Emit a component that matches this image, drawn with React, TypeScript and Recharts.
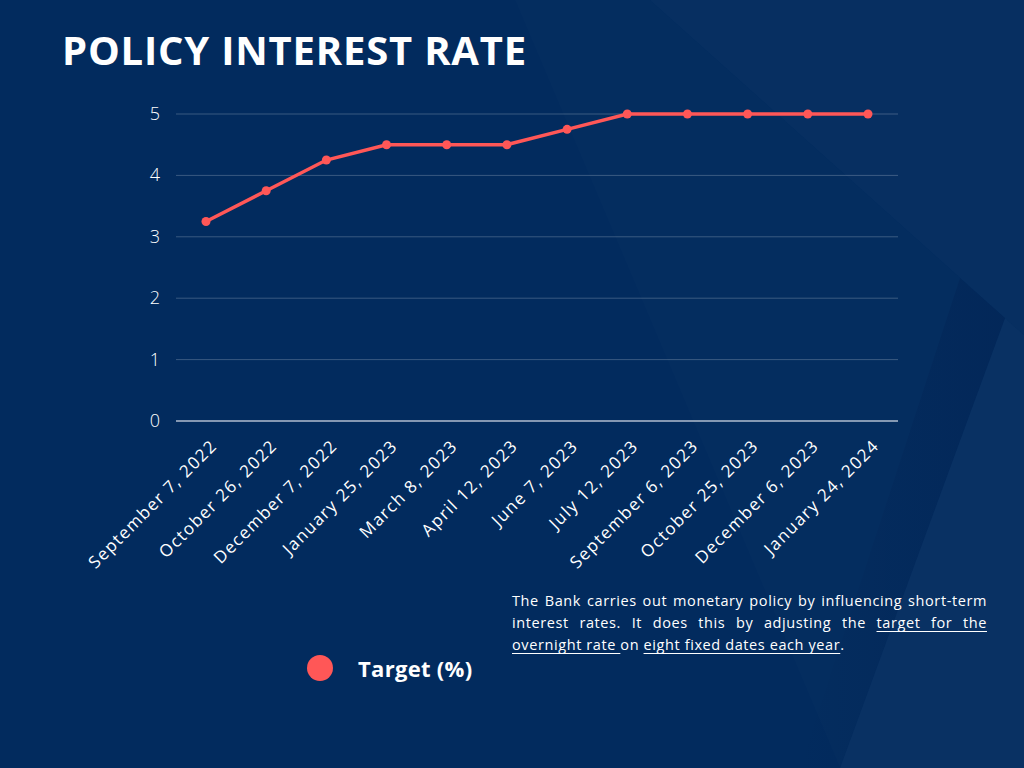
import React from "react";
import { LineChart, Line, XAxis, YAxis, CartesianGrid, Legend } from "recharts";

const dates = [
  "September 7, 2022",
  "October 26, 2022",
  "December 7, 2022",
  "January 25, 2023",
  "March 8, 2023",
  "April 12, 2023",
  "June 7, 2023",
  "July 12, 2023",
  "September 6, 2023",
  "October 25, 2023",
  "December 6, 2023",
  "January 24, 2024",
];
const targetValues = [3.25, 3.75, 4.25, 4.5, 4.5, 4.5, 4.75, 5, 5, 5, 5, 5];
const yTicks = [0, 1, 2, 3, 4, 5];
const seriesName = "Target (%)";
const title = "POLICY INTEREST RATE";

const data = dates.map((d, i) => ({ date: d, target: targetValues[i] }));

const FONT = "'Open Sans', sans-serif";
const BG = "#022b5e";
const RED = "#ff5757";

const XTick = (props: any) => {
  const { x, y, payload } = props;
  const ax = x + 12;
  const ay = y + 18;
  return (
    <text
      x={ax}
      y={ay}
      transform={`rotate(-45, ${ax}, ${ay})`}
      textAnchor="end"
      fill="#ffffff"
      fontSize={17}
      letterSpacing={1.4}
      fontFamily={FONT}
    >
      {payload.value}
    </text>
  );
};

const YTick = (props: any) => {
  const { x, y, payload } = props;
  return (
    <text x={x} y={y} dy={6} textAnchor="end" fill="#ffffff" fontSize={18} fontFamily={FONT} fontWeight={300}>
      {payload.value}
    </text>
  );
};

const LegendContent = (props: any) => {
  const item = props.payload && props.payload[0];
  return (
    <div style={{ display: "flex", alignItems: "center", height: 30 }}>
      <svg width={28} height={28}>
        <circle cx={14} cy={14} r={13} fill={RED} />
      </svg>
      <span
        style={{ marginLeft: 24, color: "#fff", fontFamily: FONT, fontWeight: 700, fontSize: 22, letterSpacing: 0.3 }}
      >
        {item ? item.value : seriesName}
      </span>
    </div>
  );
};

const u: React.CSSProperties = { textDecoration: "underline", textUnderlineOffset: 3 };
const lineStyle: React.CSSProperties = {
  textAlign: "justify",
  textAlignLast: "justify" as any,
  whiteSpace: "nowrap",
};

export default function App() {
  return (
    <div style={{ position: "absolute", left: 0, top: 0, width: 1024, height: 768, background: BG, overflow: "hidden" }}>
      <svg width={1024} height={768} style={{ position: "absolute", left: 0, top: 0 }}>
        <defs>
          <linearGradient id="shade" x1="0" y1="0" x2="1" y2="0">
            <stop offset="0" stopColor="#001a4a" stopOpacity={0} />
            <stop offset="1" stopColor="#001a4a" stopOpacity={0.3} />
          </linearGradient>
        </defs>
        <polygon points="515,0 650,0 1005,318 840,768" fill="#ffffff" opacity={0.012} />
        <polygon points="650,0 1024,0 1024,335 1005,318" fill="#ffffff" opacity={0.022} />
        <polygon points="1005,318 1024,335 1024,768 840,768" fill="#ffffff" opacity={0.03} />
        <polygon points="960,278 1005,318 840,768 800,768" fill="url(#shade)" />
      </svg>
      <div
        style={{
          position: "absolute",
          left: 62,
          top: 22,
          color: "#fff",
          fontFamily: FONT,
          fontWeight: 700,
          fontSize: 40,
          letterSpacing: 0.8,
          whiteSpace: "nowrap",
        }}
      >
        {title}
      </div>
      <div style={{ position: "absolute", left: 0, top: 0 }}>
        <LineChart width={1024} height={768} data={data} margin={{ top: 114, right: 126, left: 116, bottom: 167 }}>
          <CartesianGrid horizontal vertical={false} stroke="#ffffff" strokeOpacity={0.22} />
          <XAxis
            dataKey="date"
            interval={0}
            height={150}
            padding={{ left: 30, right: 30 }}
            tick={<XTick />}
            tickLine={false}
            axisLine={{ stroke: "#a9b6ca", strokeWidth: 1.5 }}
          />
          <YAxis
            domain={[0, 5]}
            ticks={yTicks}
            width={60}
            tick={<YTick />}
            tickLine={false}
            axisLine={false}
            tickMargin={10}
          />
          <Legend
            content={<LegendContent />}
            wrapperStyle={{ position: "absolute", left: 306, top: 653, width: 220, height: 30, bottom: "auto" }}
          />
          <Line
            type="linear"
            dataKey="target"
            name={seriesName}
            stroke={RED}
            strokeWidth={3.5}
            dot={{ r: 4.5, fill: RED, stroke: RED, strokeWidth: 0 }}
            activeDot={false}
            isAnimationActive={false}
          />
        </LineChart>
      </div>
      <div
        style={{
          position: "absolute",
          left: 512,
          top: 590,
          width: 475,
          color: "#fff",
          fontFamily: FONT,
          fontSize: 14.5,
          letterSpacing: 0.6,
          lineHeight: "22px",
        }}
      >
        <div style={lineStyle}>The Bank carries out monetary policy by influencing short-term</div>
        <div style={lineStyle}>
          interest rates. It does this by adjusting the <span style={u}>target for the</span>
        </div>
        <div style={{ whiteSpace: "nowrap" }}>
          <span style={u}>overnight rate </span>on <span style={u}>eight fixed dates each year</span>.
        </div>
      </div>
    </div>
  );
}
